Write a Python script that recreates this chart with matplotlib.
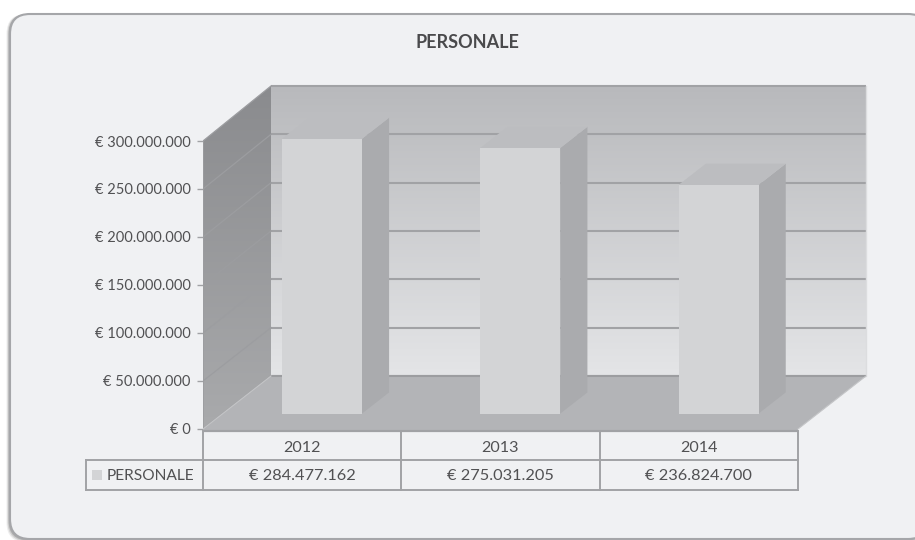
import numpy as np
import matplotlib
matplotlib.use('Agg')
import matplotlib.pyplot as plt
from matplotlib.colors import LinearSegmentedColormap
from matplotlib.patches import FancyBboxPatch, Polygon, Rectangle

plt.rcParams['font.family'] = ['Lato', 'DejaVu Sans']

#%% data
title = 'PERSONALE'
series_name = 'PERSONALE'
years = ['2012', '2013', '2014']
values = [284477162, 275031205, 236824700]
value_labels = ['€ 284.477.162', '€ 275.031.205', '€ 236.824.700']
tick_values = [0, 50000000, 100000000, 150000000, 200000000, 250000000, 300000000]
tick_labels = ['€ 0', '€ 50.000.000', '€ 100.000.000', '€ 150.000.000',
               '€ 200.000.000', '€ 250.000.000', '€ 300.000.000']

#%% layout
W, H = 915, 540
X0, CAT_PX = 203, 198.33   # px of category 0, px per category
Y0, EUR_PX = 429, 0.96e-6  # px of zero, px per euro
DX = 68 / CAT_PX           # depth of the box, in categories
DY = 53 / EUR_PX           # depth of the box, in euros
BACK_STRETCH = 1.007
BAR_STRETCH = 1.006
D0, D1 = 0.29, 0.69        # bar depth range
BAR_W = 80 / CAT_PX
GRID = '#a1a2a5'
TEXT = '#515153'


def grad(c1, c2):
    return LinearSegmentedColormap.from_list('g', [c1, c2])


fig = plt.figure(figsize=(W / 100, H / 100), dpi=100, facecolor='white')

#%% panel + table frame, in pixels
bg = fig.add_axes([0, 0, 1, 1])
bg.set_xlim(0, W)
bg.set_ylim(H, 0)
bg.axis('off')

for off, a in [(3.5, 0.10), (2.5, 0.18), (1.5, 0.28)]:
    bg.add_patch(FancyBboxPatch((10 - off, 14), 918, 525 + off,
                                boxstyle='round,pad=0,rounding_size=20',
                                fc='#555555', ec='none', alpha=a))
bg.add_patch(FancyBboxPatch((10, 14), 918, 525,
                            boxstyle='round,pad=0,rounding_size=20',
                            fc='#f0f1f3', ec='#a5a6a9', lw=1.5))

bg.text(467.5, 43, title, ha='center', va='center', fontsize=13,
        fontweight='bold', color='#4a4a4c')

col_x = [X0 + i * CAT_PX for i in range(4)]
row_y = [431, 460, 489.5]
for x in col_x:
    bg.plot([x, x], [row_y[0], row_y[2]], color=GRID, lw=1.4, solid_capstyle='projecting')
bg.plot([86, 86], [row_y[1], row_y[2]], color=GRID, lw=1.4, solid_capstyle='projecting')
bg.plot([86, col_x[3]], [row_y[1], row_y[1]], color=GRID, lw=1.4, solid_capstyle='projecting')
bg.plot([86, col_x[3]], [row_y[2], row_y[2]], color=GRID, lw=1.4, solid_capstyle='projecting')
for i in range(3):
    cx = (col_x[i] + col_x[i + 1]) / 2
    bg.text(cx, 448.5, years[i], ha='center', va='center', fontsize=11.6, color=TEXT)
    bg.text(cx, 476, value_labels[i], ha='center', va='center', fontsize=11.8, color=TEXT)
bg.add_patch(Rectangle((92, 469.5), 10, 10, fc='#d3d4d6', ec='none'))
bg.text(107, 476, series_name, ha='left', va='center', fontsize=11.2, color=TEXT)

#%% chart axes: front plane of the box sets the scale
y_low = -4e6
y_high = 365e6
x_high = 3 + DX + 0.01
ax = fig.add_axes([X0 / W, 1 - (Y0 - y_low * EUR_PX) / H,
                   x_high * CAT_PX / W, (y_high - y_low) * EUR_PX / H])
ax.patch.set_visible(False)
for s in ax.spines.values():
    s.set_visible(False)

top_front = tick_values[-1]
top_back = DY + tick_values[-1] * BACK_STRETCH

# left wall
im = ax.imshow(np.linspace(0, 1, 256).reshape(-1, 1), aspect='auto', origin='upper',
               cmap=grad('#8a8b8e', '#a9aaac'), extent=(0, DX, 0, top_back), zorder=1)
im.set_clip_path(Polygon([(0, 0), (DX, DY), (DX, top_back), (0, top_front)],
                         transform=ax.transData))

# back wall
ax.imshow(np.linspace(0, 1, 256).reshape(-1, 1), aspect='auto', origin='upper',
          cmap=grad('#b8b9bc', '#e4e5e7'), extent=(DX, 3 + DX, DY, top_back), zorder=1)

# gridlines, back wall and left wall
for v in tick_values:
    yb = DY + v * BACK_STRETCH
    ax.plot([DX, 3 + DX], [yb, yb], color=GRID, lw=1.5, zorder=2, solid_capstyle='butt')
    ax.plot([0, DX], [v, yb], color='#9c9da0', lw=0.9, zorder=2)
ax.plot([3 + DX, 3 + DX], [DY, top_back], color='#dcdddf', lw=1.0, zorder=2)
ax.plot([0, 0], [0, top_front], color='#9c9da0', lw=1.2, zorder=2)

# floor
ax.fill([0, DX, 3 + DX, 3], [0, DY, DY, 0], color='#b3b4b7', lw=0, zorder=3)
ax.plot([DX, 3 + DX], [DY, DY], color='#9c9da0', lw=1.5, zorder=3, solid_capstyle='butt')
ax.plot([0, DX], [0, DY], color='#c4c5c7', lw=0.8, zorder=3)
ax.plot([3, 3 + DX], [0, DY], color='#c4c5c7', lw=0.8, zorder=3)
ax.plot([0, 3], [-2e6, -2e6], color=GRID, lw=1.6, zorder=3, solid_capstyle='butt')
ax.fill([0, 3, 3, 0], [0, 0, -2e6, -2e6], color='#b3b4b7', lw=0, zorder=2.9)

# bars
xc = np.arange(3) + 0.5 + D0 * DX
base = D0 * DY
bar_h = np.array(values) * BAR_STRETCH
ax.bar(xc, bar_h, width=BAR_W, bottom=base, color='#d3d4d6', lw=0, zorder=6)
ddx = (D1 - D0) * DX
ddy = (D1 - D0) * DY
for x, h in zip(xc, bar_h):
    xr = x + BAR_W / 2
    xl = x - BAR_W / 2
    ax.fill([xr, xr + ddx, xr + ddx, xr],
            [base, base + ddy, base + h + ddy, base + h],
            color='#aaabae', lw=0, zorder=5)
    ax.fill([xl, xr, xr + ddx, xl + ddx],
            [base + h, base + h, base + h + ddy, base + h + ddy],
            color='#bcbdc0', lw=0, zorder=5)

ax.set_xlim(0, x_high)
ax.set_ylim(y_low, y_high)
ax.set_xticks([])
ax.set_yticks(tick_values)
ax.set_yticklabels(tick_labels)
ax.tick_params(axis='y', length=4.5, width=1.0, color=GRID, labelcolor=TEXT,
               labelsize=10.5, pad=4.5)

fig.savefig('out.png', dpi=100)
